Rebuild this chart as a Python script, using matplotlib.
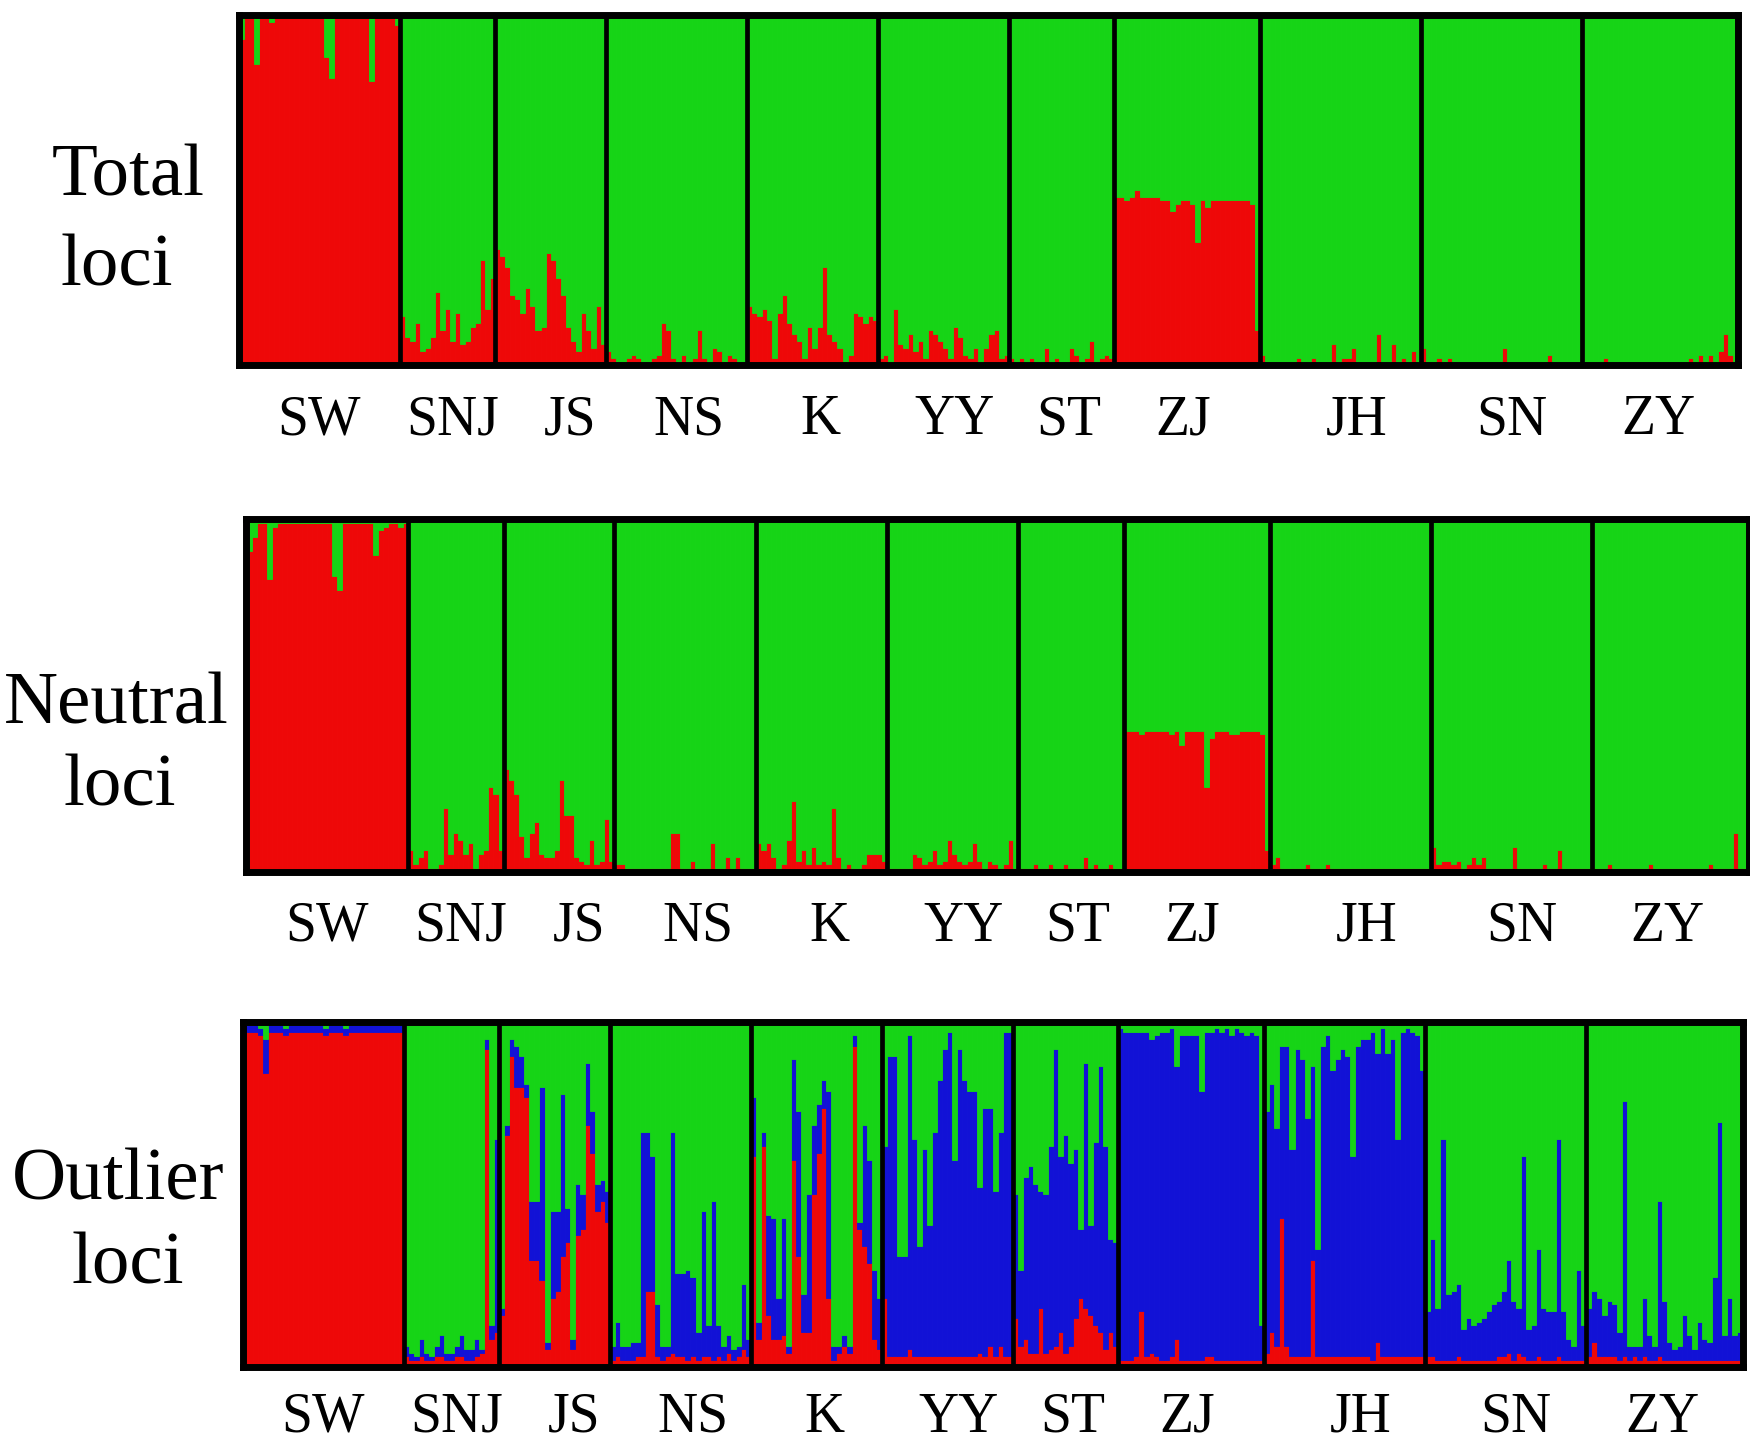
import matplotlib
matplotlib.use("Agg")
import matplotlib.pyplot as plt
import numpy as np

populations = ["SW", "SNJ", "JS", "NS", "K", "YY", "ST", "ZJ", "JH", "SN", "ZY"]

# ---- Total loci: red membership (%) per individual, by population (green = rest)
total_red = [
    [93, 99, 99, 86, 99, 99, 98, 99, 99, 99, 99, 99, 99, 99, 99, 99, 99, 88, 82, 99,
     99, 99, 99, 99, 99, 99, 81, 99, 99, 99, 99, 97],
    [14, 8, 7, 12, 4, 5, 8, 21, 10, 16, 7, 15, 6, 7, 11, 12, 30, 16, 25],
    [33, 31, 28, 20, 19, 15, 22, 17, 10, 11, 32, 30, 25, 20, 11, 7, 4, 15, 10, 5, 17, 6],
    [4, 2, 1, 1, 2, 3, 2, 1, 1, 2, 3, 12, 10, 2, 1, 3, 1, 2, 10, 2, 1, 5, 4, 1, 3, 2, 1, 1],
    [17, 15, 14, 16, 13, 2, 15, 20, 12, 9, 7, 2, 11, 5, 11, 28, 9, 7, 5, 1, 3, 15, 14, 12, 14, 13],
    [2, 3, 1, 16, 6, 5, 9, 4, 7, 2, 10, 9, 7, 5, 2, 11, 8, 3, 2, 5, 1, 5, 9, 10, 2, 3],
    [2, 1, 2, 1, 2, 1, 1, 5, 1, 2, 1, 1, 5, 3, 1, 2, 7, 1, 2, 3, 2],
    [48, 48, 47, 48, 50, 48, 48, 48, 48, 47, 47, 44, 46, 47, 47, 46, 35, 47, 45, 47,
     47, 47, 47, 47, 47, 47, 47, 46, 10],
    [3, 1, 1, 1, 1, 1, 1, 2, 1, 1, 2, 1, 1, 1, 6, 1, 2, 2, 5, 1, 1, 1, 1, 9, 1, 1, 6, 1, 2,
     1, 4, 1],
    [5, 1, 1, 2, 1, 2, 1, 1, 1, 1, 1, 1, 1, 1, 1, 1, 5, 1, 1, 1, 1, 1, 1, 1, 1, 3, 1, 1, 1, 1,
     1, 1],
    [1, 1, 1, 1, 2, 1, 1, 1, 1, 1, 1, 1, 1, 1, 1, 1, 1, 1, 1, 1, 1, 2, 1, 3, 1, 3, 1, 4, 9, 3,
     1],
]

# ---- Neutral loci: red membership (%)
neutral_red = [
    [91, 95, 99, 99, 83, 98, 99, 99, 99, 99, 99, 99, 99, 99, 99, 99, 99, 84, 80, 99,
     99, 99, 99, 99, 99, 90, 97, 98, 99, 99, 98, 99],
    [6, 2, 4, 6, 1, 1, 2, 18, 5, 11, 9, 5, 8, 1, 5, 6, 24, 22, 6],
    [29, 26, 22, 10, 4, 11, 14, 5, 4, 4, 6, 26, 16, 16, 4, 3, 2, 9, 2, 3, 15, 3],
    [2, 2, 1, 1, 1, 1, 1, 1, 1, 1, 1, 11, 11, 1, 1, 3, 1, 1, 1, 8, 1, 1, 4, 1, 4, 1, 1, 1],
    [8, 6, 8, 4, 1, 2, 9, 20, 3, 6, 2, 7, 2, 3, 2, 18, 4, 1, 2, 1, 1, 2, 5, 5, 5, 3],
    [1, 1, 1, 1, 1, 5, 4, 2, 3, 6, 2, 3, 9, 5, 3, 2, 3, 8, 3, 1, 3, 2, 1, 2, 9, 1],
    [1, 1, 1, 2, 1, 1, 2, 1, 1, 2, 1, 1, 1, 4, 1, 2, 1, 1, 2, 1, 1],
    [40, 40, 40, 39, 40, 40, 40, 40, 40, 39, 40, 36, 40, 40, 40, 40, 24, 38, 40, 40,
     40, 39, 39, 40, 40, 40, 40, 39, 6],
    [2, 4, 1, 1, 1, 1, 1, 2, 1, 1, 1, 2, 1, 1, 1, 1, 1, 1, 1, 1, 1, 1, 1, 1, 1, 1, 1, 1, 1,
     1, 1, 1],
    [7, 2, 3, 3, 2, 3, 1, 2, 4, 2, 4, 1, 1, 1, 1, 1, 7, 1, 1, 1, 1, 1, 2, 1, 1, 6, 1, 1, 1, 1,
     1, 1],
    [1, 1, 1, 2, 1, 1, 1, 1, 1, 1, 1, 2, 1, 1, 1, 1, 1, 1, 1, 1, 1, 1, 1, 2, 1, 1, 1, 1, 11, 1,
     1],
]

# ---- Outlier loci: red and blue membership (%), green = rest
outlier_red = [
    [97, 97, 97, 96, 85, 97, 97, 97, 96, 97, 97, 97, 97, 97, 97, 97, 96, 97, 97, 97,
     96, 97, 97, 97, 97, 97, 97, 97, 97, 97, 97, 97],
    [3, 2, 2, 3, 2, 2, 3, 3, 2, 2, 3, 3, 2, 2, 3, 4, 92, 8, 10],
    [15, 67, 90, 81, 81, 78, 31, 31, 25, 5, 20, 22, 32, 36, 5, 38, 40, 70, 62, 45, 48, 42],
    [2, 3, 2, 2, 2, 3, 3, 22, 22, 3, 2, 3, 4, 3, 3, 2, 3, 2, 3, 3, 2, 3, 2, 4, 2, 3, 5, 3],
    [61, 8, 64, 15, 8, 8, 9, 4, 60, 32, 10, 10, 50, 62, 75, 20, 2, 4, 6, 4, 93, 40, 35, 30, 8, 5],
    [20, 3, 3, 3, 3, 5, 3, 3, 3, 3, 3, 3, 3, 3, 3, 3, 3, 3, 3, 4, 3, 6, 3, 6, 3, 3],
    [14, 6, 8, 4, 4, 17, 4, 5, 6, 10, 4, 6, 14, 20, 17, 15, 12, 10, 5, 10, 6],
    [2, 2, 2, 3, 16, 3, 4, 3, 2, 2, 3, 8, 2, 2, 2, 2, 2, 3, 3, 2, 2, 2, 2, 2, 2, 2, 2, 2, 2],
    [4, 10, 6, 43, 6, 3, 3, 3, 3, 31, 3, 3, 3, 3, 3, 3, 3, 3, 3, 3, 3, 2, 7, 3, 3, 3, 3, 3, 3,
     3, 3, 3],
    [3, 3, 2, 2, 2, 2, 3, 2, 2, 2, 2, 2, 2, 2, 3, 3, 4, 2, 4, 3, 2, 2, 3, 2, 2, 2, 3, 2, 2, 2,
     2, 2],
    [3, 7, 3, 3, 3, 3, 2, 3, 2, 3, 2, 3, 2, 2, 3, 2, 2, 2, 2, 2, 2, 2, 2, 2, 2, 2, 2, 2, 2, 2,
     2],
]
outlier_blue = [
    [2, 2, 2, 2, 10, 2, 2, 2, 2, 2, 2, 2, 2, 2, 2, 2, 2, 2, 2, 2,
     2, 2, 2, 2, 2, 2, 2, 2, 2, 2, 2, 2],
    [3, 2, 1, 5, 2, 1, 3, 6, 2, 2, 3, 6, 3, 3, 5, 1, 3, 4, 56],
    [2, 3, 5, 12, 9, 4, 17, 17, 56, 2, 25, 23, 47, 10, 3, 15, 10, 18, 12, 8, 6, 9],
    [4, 10, 4, 4, 5, 4, 65, 46, 39, 15, 4, 3, 64, 24, 24, 26, 23, 8, 42, 9, 46, 9, 4, 5, 3, 3, 19, 5],
    [17, 5, 4, 29, 35, 12, 34, 2, 29, 42, 11, 40, 20, 14, 8, 60, 4, 2, 3, 2, 3, 2, 35, 30, 20, 15],
    [44, 87, 87, 29, 29, 91, 63, 32, 60, 38, 65, 80, 89, 94, 57, 89, 80, 77, 77, 48,
     72, 69, 48, 62, 94, 94],
    [36, 22, 47, 54, 49, 34, 46, 59, 86, 51, 63, 53, 49, 20, 71, 26, 53, 77, 59, 27, 30],
    [96, 95, 95, 94, 81, 94, 91, 93, 95, 95, 95, 79, 94, 94, 94, 94, 78, 94, 94, 96,
     95, 96, 94, 96, 95, 94, 95, 94, 10],
    [70, 72, 63, 50, 87, 60, 89, 86, 69, 56, 31, 90, 93, 83, 86, 89, 87, 58, 90, 92,
     92, 95, 84, 95, 88, 92, 63, 94, 95, 94, 93, 83],
    [13, 34, 15, 64, 19, 20, 21, 9, 12, 10, 11, 12, 14, 16, 16, 19, 27, 17, 13, 58,
     9, 10, 31, 15, 14, 14, 63, 14, 6, 4, 26, 10],
    [14, 15, 17, 12, 16, 15, 8, 74, 4, 3, 4, 17, 7, 4, 45, 17, 5, 3, 4, 13, 7,
     3, 11, 6, 5, 24, 69, 7, 18, 7, 8],
]

# ---- layout / style
RED = "#EE0808"
GREEN = "#16D416"
BLUE = "#1212D6"
SERIF = ["Liberation Serif", "DejaVu Serif"]
label_shift = [0, 1, 3.9, 2.5, 1.7, 2.2, 1.5, -0.8, 3.2, 2, -0.5]  # in bar units

W, H = 1750, 1449
fig = plt.figure(figsize=(W / 100, H / 100), dpi=100)
fig.patch.set_facecolor("white")


def add_panel(box, comps, colors, pad):
    l, t, r, b = box
    ax = fig.add_axes([l / W, 1 - b / H, (r - l) / W, (b - t) / H])
    counts = [len(p) for p in comps[0]]
    n = sum(counts)
    x = np.arange(n) + 0.5
    bottom = np.zeros(n)
    for comp, col in zip(comps, colors):
        vals = np.array([v for pop in comp for v in pop], dtype=float)
        ax.bar(x, vals, width=1.0, bottom=bottom, color=col, edgecolor=col,
               linewidth=0.6, align="center")
        bottom = bottom + vals
    rest = np.clip(100 - bottom, 0, None)
    ax.bar(x, rest, width=1.0, bottom=bottom, color=GREEN, edgecolor=GREEN,
           linewidth=0.6, align="center")
    ax.set_xlim(0, n)
    ax.set_ylim(0, 100)
    cum = np.cumsum(counts)
    for bnd in cum[:-1]:
        ax.axvline(bnd, color="black", lw=3.4)
    centers = cum - np.array(counts) / 2 + np.array(label_shift)
    ax.set_xticks(centers)
    ax.set_xticklabels(populations, fontsize=40, family=SERIF)
    ax.tick_params(axis="x", length=0, pad=pad)
    ax.set_yticks([])
    for s in ax.spines.values():
        s.set_linewidth(5)
        s.set_color("black")
    return ax


add_panel((238.5, 14.5, 1738.5, 365.2), [total_red], [RED], 21)
add_panel((246.5, 519.5, 1748.5, 871.5), [neutral_red], [RED], 21)
add_panel((242.5, 1021.5, 1742.5, 1366.5), [outlier_red, outlier_blue], [RED, BLUE], 18)

row_titles = [
    ("Total", 128, 195, "loci", 117, 285),
    ("Neutral", 116, 723, "loci", 120, 806),
    ("Outlier", 118, 1200, "loci", 128, 1283),
]
for w1, x1, y1, w2, x2, y2 in row_titles:
    fig.text(x1 / W, 1 - y1 / H, w1, ha="center", va="baseline", fontsize=54, family=SERIF)
    fig.text(x2 / W, 1 - y2 / H, w2, ha="center", va="baseline", fontsize=54, family=SERIF)

fig.savefig("out.png", dpi=100, facecolor="white")
